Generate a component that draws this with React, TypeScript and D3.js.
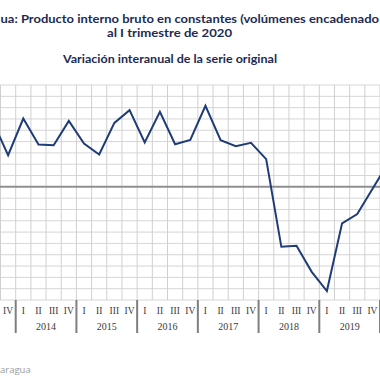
import React from "react";
import * as d3 from "d3";

const romans = ["I", "II", "III", "IV"];
const axisYears = [2013, 2014, 2015, 2016, 2017, 2018, 2019, 2020];
// series periods (year, quarter index 0-3) and year-on-year variation
const seriesYears = [2013, 2013, 2014, 2014, 2014, 2014, 2015, 2015, 2015, 2015, 2016, 2016, 2016, 2016, 2017, 2017, 2017, 2017, 2018, 2018, 2018, 2018, 2019, 2019, 2019, 2019, 2020];
const seriesQuarters = [2, 3, 0, 1, 2, 3, 0, 1, 2, 3, 0, 1, 2, 3, 0, 1, 2, 3, 0, 1, 2, 3, 0, 1, 2, 3, 0];
const seriesValues = [5.75, 2.8, 6.04, 3.75, 3.68, 5.83, 3.83, 2.86, 5.65, 6.78, 3.92, 6.63, 3.77, 4.15, 7.16, 4.12, 3.6, 3.89, 2.45, -5.3, -5.21, -7.51, -9.21, -3.23, -2.41, -0.2, 2.04];
const yTicks = d3.range(-10, 10, 1);

const W = 380;
const H = 380;

export default function App() {
  const keys: string[] = [];
  axisYears.forEach((y) => romans.forEach((_, q) => keys.push(`${y}-${q}`)));
  const step = 15.18;
  const start2014 = 15.7;
  const x0 = start2014 - 4 * step;
  const x = d3.scaleBand<string>().domain(keys).range([x0, x0 + keys.length * step]).paddingInner(0).paddingOuter(0);
  const y = d3.scaleLinear().domain([-10, 9]).range([300, 85]);
  const bw = x.bandwidth();

  const pts = seriesValues.map((v, i) => ({ k: `${seriesYears[i]}-${seriesQuarters[i]}`, v }));
  const line = d3
    .line<{ k: string; v: number }>()
    .x((d) => (x(d.k) as number) + bw / 2)
    .y((d) => y(d.v));

  const plotTop = y(9);
  const plotBottom = y(-10);

  const titleColor = "#1d2b52";
  const titleFont = "Lato, 'Noto Sans', sans-serif";

  const visible = (cx: number) => cx >= 0 && cx <= W;

  return (
    <svg width={W} height={H} style={{ position: "absolute", left: 0, top: 0, background: "#fff" }}>
      <rect x={0} y={0} width={W} height={H} fill="#fff" />
      {/* titles */}
      <g fontFamily={titleFont} fontWeight="bold" fill={titleColor} fontSize={11}>
        <text x={0.5} y={22.7} textLength={378.5} lengthAdjust="spacingAndGlyphs">
          ua: Producto interno bruto en constantes (volúmenes encadenado
        </text>
        <text x={107} y={36.7} textLength={125} lengthAdjust="spacingAndGlyphs">al I trimestre de 2020</text>
        <text x={63} y={63.3} textLength={214} lengthAdjust="spacingAndGlyphs">Variación interanual de la serie original</text>
      </g>

      {/* horizontal grid */}
      {yTicks.map((t) =>
        t === 0 ? null : (
          <line key={`h${t}`} x1={0} x2={W} y1={y(t)} y2={y(t)} stroke="#d6d6d6" strokeWidth={1} />
        )
      )}
      {/* vertical grid */}
      {keys.map((k) => (
        <line key={`v${k}`} x1={x(k)} x2={x(k)} y1={plotTop} y2={plotBottom} stroke="#d0d0d0" strokeWidth={1} />
      ))}
      {/* zero line */}
      <line x1={0} x2={W} y1={y(0)} y2={y(0)} stroke="#8f8f8f" strokeWidth={2} />

      {/* series */}
      <path d={line(pts) || ""} fill="none" stroke="#1f3c78" strokeWidth={2} strokeLinejoin="miter" />

      {/* x axis labels */}
      <g fontFamily="'Liberation Serif', 'Times New Roman', serif" fill="#3a3a3a">
        {keys.map((k) => {
          const q = +k.split("-")[1];
          const cx = (x(k) as number) + bw / 2;
          if (!visible(cx)) return null;
          return (
            <text key={`q${k}`} x={cx} y={314} fontSize={9.5} textAnchor="middle">
              {romans[q]}
            </text>
          );
        })}
        {axisYears.map((yr) => {
          const a = x(`${yr}-0`) as number;
          const b = (x(`${yr}-3`) as number) + bw;
          const cx = (a + b) / 2;
          return (
            <g key={`y${yr}`}>
              {visible(cx) ? (
                <text x={cx} y={330} fontSize={10} textAnchor="middle">
                  {yr}
                </text>
              ) : null}
              <line x1={a} x2={a} y1={plotBottom} y2={333} stroke="#7f7f7f" strokeWidth={2} />
            </g>
          );
        })}
      </g>

      {/* source */}
      <g fontFamily="'Open Sans', 'Noto Sans', sans-serif" fill="#9a9a9a" fontSize={9.5}>
        <text x={0} y={373}>aragua</text>
      </g>
    </svg>
  );
}
